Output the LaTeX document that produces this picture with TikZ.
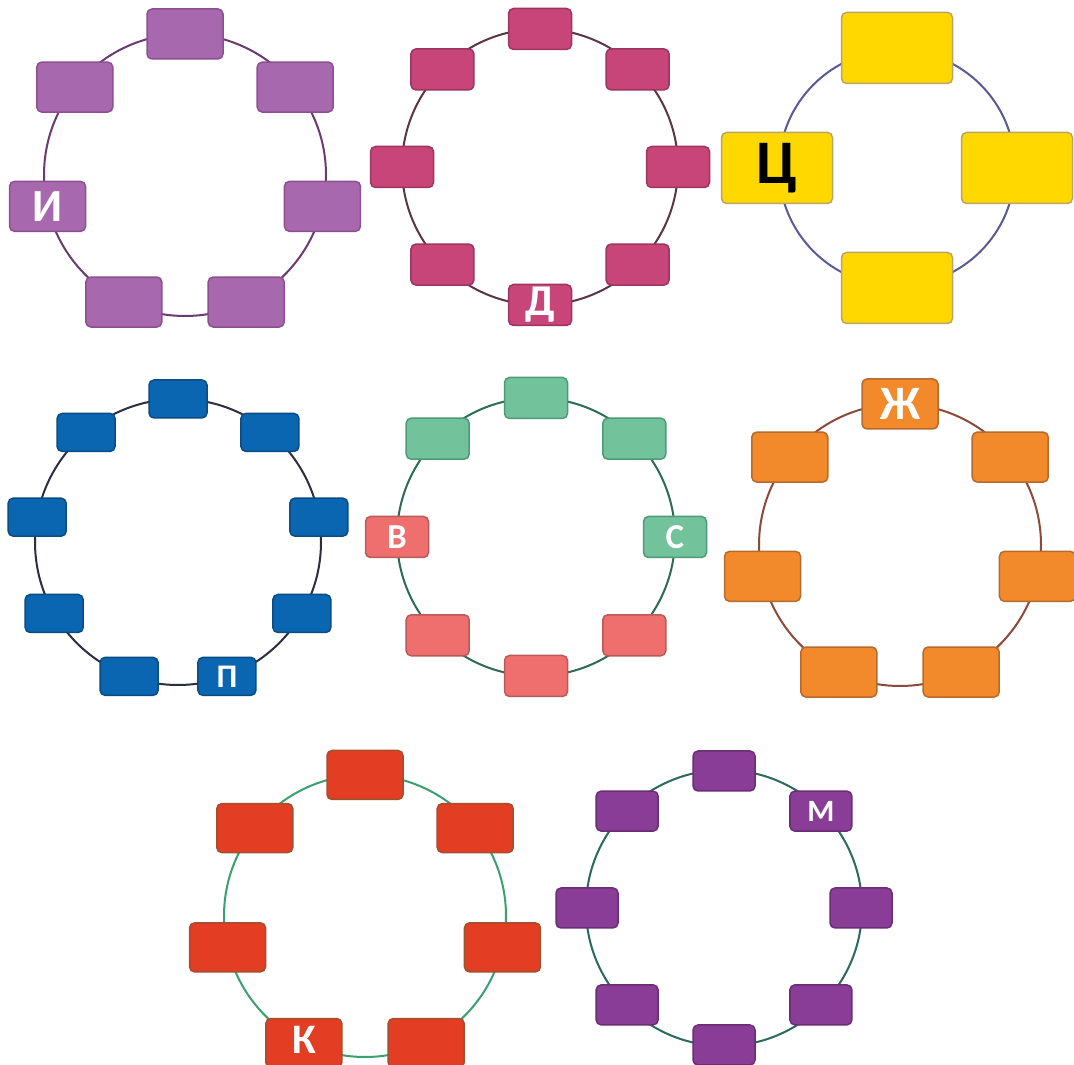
\documentclass[tikz,border=0pt]{standalone}
\usepackage{fontspec}
\setsansfont{Carlito}
\definecolor{lilac}{HTML}{A868AE}
\definecolor{lilacedge}{HTML}{8C5092}
\definecolor{lilacline}{HTML}{6A3A70}
\definecolor{rose}{HTML}{C8457A}
\definecolor{roseedge}{HTML}{9E3460}
\definecolor{roseline}{HTML}{5A3545}
\definecolor{sun}{HTML}{FFD800}
\definecolor{sunedge}{HTML}{B9A46A}
\definecolor{sunline}{HTML}{5A5A95}
\definecolor{sea}{HTML}{0A66B1}
\definecolor{seaedge}{HTML}{0A4C82}
\definecolor{sealine}{HTML}{2D2D40}
\definecolor{mint}{HTML}{72C29C}
\definecolor{mintedge}{HTML}{4E9A77}
\definecolor{salmon}{HTML}{EE6F6E}
\definecolor{salmonedge}{HTML}{B9595A}
\definecolor{mintline}{HTML}{2E6B55}
\definecolor{tangerine}{HTML}{F28A2B}
\definecolor{tangerineedge}{HTML}{B56A2E}
\definecolor{tangerineline}{HTML}{8B4A3A}
\definecolor{brick}{HTML}{E33E23}
\definecolor{brickedge}{HTML}{A0502E}
\definecolor{brickline}{HTML}{3BA070}
\definecolor{plum}{HTML}{8A3D96}
\definecolor{plumedge}{HTML}{6A2E74}
\definecolor{plumline}{HTML}{2A6A5A}
\tikzset{
    tile/.style = {rounded corners = 5pt, line width = 1.5pt, inner sep = 0pt},
    ring/.style = {line width = 2pt},
    letter/.style = {font = \sffamily\bfseries\fontsize{#1}{#1}\selectfont, text = white, inner sep = 0pt}
}
\begin{document}
\begin{tikzpicture}[x = 1pt, y = 1pt]
        \useasboundingbox[fill = white] (0, 0) rectangle (1074, 1065);
        % top row
        \begin{scope}[shift = {(185, 890)}]
            \draw[ring, draw = lilacline] (0, 0) circle (141pt);
            \foreach \i in {0, ..., 6}{
                \node[tile, fill = lilac, draw = lilacedge, minimum width = 76pt, minimum height = 50pt] (ri\i) at ({90 + \i*360/7}:141) {};
            }
            \node[letter = 46] (li) at (ri2) {И};
        \end{scope}
        \begin{scope}[shift = {(540, 898)}]
            \draw[ring, draw = roseline] (0, 0) circle (138pt);
            \foreach \i in {0, ..., 7}{
                \node[tile, fill = rose, draw = roseedge, minimum width = 63pt, minimum height = 41pt] (rd\i) at ({90 + \i*45}:138) {};
            }
            \node[letter = 44] (ld) at (rd4) {Д};
        \end{scope}
        \begin{scope}[shift = {(897, 897)}]
            \draw[ring, draw = sunline] (0, 0) circle (118pt);
            \foreach \i in {0, ..., 3}{
                \node[tile, fill = sun, draw = sunedge, minimum width = 111pt, minimum height = 71pt] (rc\i) at ({90 + \i*90}:120) {};
            }
            \node[letter = 62, text = black] (lc) at (rc1) {Ц};
        \end{scope}
        % middle row
        \begin{scope}[shift = {(178, 523)}]
            \draw[ring, draw = sealine] (0, 0) circle (143pt);
            \foreach \i in {0, ..., 8}{
                \node[tile, fill = sea, draw = seaedge, minimum width = 58pt, minimum height = 38pt] (rp\i) at ({90 + \i*40}:143) {};
            }
            \node[letter = 33] (lp) at (rp5) {П};
        \end{scope}
        \begin{scope}[shift = {(536, 528)}]
            \draw[ring, draw = mintline] (0, 0) circle (139pt);
            \foreach \i in {0, ..., 3}{
                \node[tile, fill = mint, draw = mintedge, minimum width = 63pt, minimum height = 41pt] (rs\i) at ({\i*45}:139) {};
                \node[tile, fill = salmon, draw = salmonedge, minimum width = 63pt, minimum height = 41pt] (rv\i) at ({180 + \i*45}:139) {};
            }
            \node[letter = 35] (lv) at (rv0) {В};
            \node[letter = 35] (ls) at (rs0) {С};
        \end{scope}
        \begin{scope}[shift = {(900, 520)}]
            \draw[ring, draw = tangerineline] (0, 0) circle (141pt);
            \foreach \i in {0, ..., 6}{
                \node[tile, fill = tangerine, draw = tangerineedge, minimum width = 76pt, minimum height = 50pt] (rz\i) at ({90 + \i*360/7}:141) {};
            }
            \node[letter = 48] (lz) at (rz0) {Ж};
        \end{scope}
        % bottom row
        \begin{scope}[shift = {(365, 149)}]
            \draw[ring, draw = brickline] (0, 0) circle (141pt);
            \foreach \i in {0, ..., 6}{
                \node[tile, fill = brick, draw = brickedge, minimum width = 76pt, minimum height = 49pt] (rk\i) at ({90 + \i*360/7}:141) {};
            }
            \node[letter = 42] (lk) at ([yshift = 3pt]rk3) {К};
        \end{scope}
        \begin{scope}[shift = {(724, 157)}]
            \draw[ring, draw = plumline] (0, 0) circle (138pt);
            \foreach \i in {0, ..., 7}{
                \node[tile, fill = plum, draw = plumedge, minimum width = 62pt, minimum height = 40pt] (rm\i) at ({90 + \i*45}:137) {};
            }
            \node[letter = 31] (lm) at (rm7) {М};
        \end{scope}
    \end{tikzpicture}
\end{document}
